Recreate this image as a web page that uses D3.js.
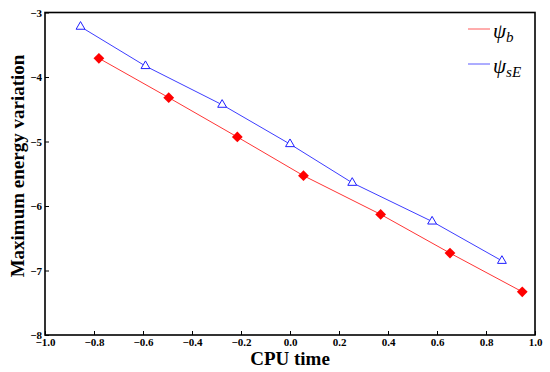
<!DOCTYPE html>
<html>
<head>
<meta charset="utf-8">
<script src="https://cdn.jsdelivr.net/npm/d3@7"></script>
<style>
html,body{margin:0;padding:0;background:#fff;}
svg{display:block;}
</style>
</head>
<body>
<svg id="chart" width="550" height="372"></svg>
<script>
// Data
const psiB_x = [-0.78, -0.495, -0.215, 0.055, 0.37, 0.653, 0.948];
const psiB_y = [-3.71, -4.32, -4.93, -5.53, -6.13, -6.73, -7.33];
const psiSE_x = [-0.855, -0.59, -0.277, 0.0, 0.254, 0.58, 0.865];
const psiSE_y = [-3.22, -3.83, -4.43, -5.04, -5.64, -6.24, -6.85];
const xTicks = [-1.0, -0.8, -0.6, -0.4, -0.2, 0.0, 0.2, 0.4, 0.6, 0.8, 1.0];
const yTicks = [-8, -7, -6, -5, -4, -3];
const xTitle = "CPU time";
const yTitle = "Maximum energy variation";

const svg = d3.select("#chart");
const m = {left: 45, top: 12.5, right: 535, bottom: 335};
const x = d3.scaleLinear().domain([-1, 1]).range([m.left, m.right]);
const y = d3.scaleLinear().domain([-8, -3]).range([m.bottom, m.top]);

const font = "'Liberation Serif','Times New Roman',serif";

// Axes
const gx = svg.append("g").attr("transform", `translate(0,${m.bottom})`)
  .call(d3.axisBottom(x).tickValues(xTicks).tickFormat(d3.format(".1f")).tickSizeInner(-4).tickSizeOuter(0).tickPadding(3));
const gy = svg.append("g").attr("transform", `translate(${m.left},0)`)
  .call(d3.axisLeft(y).tickValues(yTicks).tickFormat(d3.format("d")).tickSizeInner(-4).tickSizeOuter(0).tickPadding(3));
[gx, gy].forEach(g => {
  g.select(".domain").remove();
  g.selectAll(".tick line").attr("stroke", "#000").attr("stroke-width", 1);
  g.selectAll(".tick text").attr("font-family", font).attr("font-weight", "bold").attr("font-size", 11).attr("fill", "#000");
});

// Frame
svg.append("rect").attr("x", m.left).attr("y", m.top)
  .attr("width", m.right - m.left).attr("height", m.bottom - m.top)
  .attr("fill", "none").attr("stroke", "#000").attr("stroke-width", 1.6);

// Series
const redPts = psiB_x.map((d, i) => [d, psiB_y[i]]);
const bluePts = psiSE_x.map((d, i) => [d, psiSE_y[i]]);
const line = d3.line().x(d => x(d[0])).y(d => y(d[1]));

svg.append("path").attr("d", line(redPts)).attr("fill", "none").attr("stroke", "#ff3535").attr("stroke-width", 1);
svg.append("path").attr("d", line(bluePts)).attr("fill", "none").attr("stroke", "#3d3dff").attr("stroke-width", 1);

const sq = d3.symbol().type(d3.symbolSquare).size(58);
svg.selectAll(".dia").data(redPts).enter().append("path")
  .attr("d", sq)
  .attr("transform", d => `translate(${x(d[0])},${y(d[1])}) rotate(45)`)
  .attr("fill", "#ff0000");

const tri = d3.symbol().type(d3.symbolTriangle).size(34);
svg.selectAll(".tri").data(bluePts).enter().append("path")
  .attr("d", tri)
  .attr("transform", d => `translate(${x(d[0])},${y(d[1])})`)
  .attr("fill", "#fff").attr("stroke", "#1f1fff").attr("stroke-width", 1);

// Axis titles
svg.append("text").attr("x", 290).attr("y", 365).attr("text-anchor", "middle")
  .attr("font-family", font).attr("font-weight", "bold").attr("font-size", 19).text(xTitle);
svg.append("text").attr("transform", "translate(24,166) rotate(-90)").attr("text-anchor", "middle")
  .attr("font-family", font).attr("font-weight", "bold").attr("font-size", 19).text(yTitle);

// Legend
const legend = [
  {c: "#ff5a5a", y: 29, main: "ψ", sub: "b"},
  {c: "#5a5aff", y: 64, main: "ψ", sub: "sE"}
];
legend.forEach(l => {
  svg.append("line").attr("x1", 468).attr("x2", 490).attr("y1", l.y).attr("y2", l.y)
    .attr("stroke", l.c).attr("stroke-width", 1);
  const t = svg.append("text").attr("x", 493).attr("y", l.y + 9)
    .attr("font-family", font).attr("font-style", "italic").attr("font-size", 21);
  t.append("tspan").text(l.main);
  t.append("tspan").attr("dy", 4).attr("font-size", 15).text(l.sub);
});
</script>
</body>
</html>
